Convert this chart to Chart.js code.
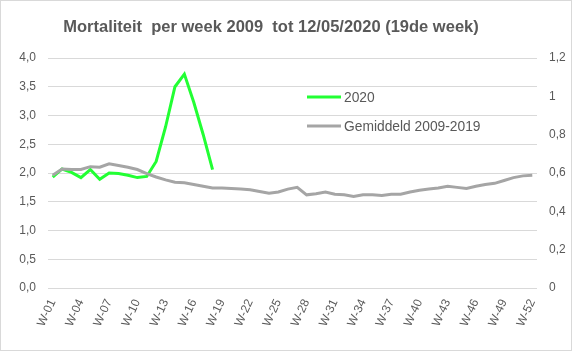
<!DOCTYPE html>
<html>
<head>
    <title>Mortaliteit per week</title>
    <script src="https://cdn.jsdelivr.net/npm/chart.js@4.4.0/dist/chart.umd.min.js"></script>
    <style>
        html, body { margin: 0; padding: 0; background: #fff; }
        #wrap { width: 570px; height: 349px; border: 1px solid #D9D9D9; position: relative; }
    </style>
</head>
<body>
    <div id="wrap">
        <canvas id="myChart" width="570" height="349"></canvas>
    </div>

    <script>
        // Data
        const weeks = [
            'W-01', 'W-02', 'W-03', 'W-04', 'W-05', 'W-06', 'W-07', 'W-08', 'W-09', 'W-10',
            'W-11', 'W-12', 'W-13', 'W-14', 'W-15', 'W-16', 'W-17', 'W-18', 'W-19', 'W-20',
            'W-21', 'W-22', 'W-23', 'W-24', 'W-25', 'W-26', 'W-27', 'W-28', 'W-29', 'W-30',
            'W-31', 'W-32', 'W-33', 'W-34', 'W-35', 'W-36', 'W-37', 'W-38', 'W-39', 'W-40',
            'W-41', 'W-42', 'W-43', 'W-44', 'W-45', 'W-46', 'W-47', 'W-48', 'W-49', 'W-50',
            'W-51', 'W-52'
        ];
        const year2020 = [
            1.93, 2.07, 2.01, 1.92, 2.06, 1.89, 2.00, 1.99, 1.96, 1.92,
            1.94, 2.20, 2.80, 3.50, 3.72, 3.23, 2.67, 2.06
        ];
        const avg2009_2019 = [
            1.96, 2.07, 2.06, 2.06, 2.11, 2.10, 2.16, 2.13, 2.10, 2.06,
            1.99, 1.93, 1.88, 1.84, 1.83, 1.80, 1.77, 1.74, 1.74, 1.73,
            1.72, 1.71, 1.68, 1.65, 1.67, 1.72, 1.75, 1.62, 1.64, 1.67,
            1.63, 1.62, 1.59, 1.62, 1.62, 1.61, 1.63, 1.63, 1.67, 1.70,
            1.72, 1.74, 1.77, 1.75, 1.73, 1.77, 1.80, 1.82, 1.87, 1.92,
            1.95, 1.96
        ];
        const leftTicks = [0, 0.5, 1, 1.5, 2, 2.5, 3, 3.5, 4];
        const rightTicks = [0, 0.2, 0.4, 0.6, 0.8, 1, 1.2];

        const titleText = 'Mortaliteit  per week 2009  tot 12/05/2020 (19de week)';
        const textColor = '#595959';
        const font = 'Liberation Sans';

        // Title and in-plot legend, drawn like the original
        const decor = {
            id: 'decor',
            afterDraw(chart) {
                const ctx = chart.ctx;
                ctx.save();
                ctx.fillStyle = textColor;
                ctx.font = 'bold 16.5px ' + font;
                ctx.textAlign = 'center';
                ctx.textBaseline = 'middle';
                ctx.fillText(titleText, 270, 26);

                ctx.font = '13.8px ' + font;
                ctx.textAlign = 'left';
                const items = [chart.data.datasets[1], chart.data.datasets[0]];
                items.forEach((ds, i) => {
                    const y = 96 + i * 29;
                    ctx.strokeStyle = ds.borderColor;
                    ctx.lineWidth = 3;
                    ctx.beginPath();
                    ctx.moveTo(306, y);
                    ctx.lineTo(340, y);
                    ctx.stroke();
                    ctx.fillText(ds.label, 343, y + 1);
                });
                ctx.restore();
            }
        };

        const config = {
            type: 'line',
            data: {
                labels: weeks,
                datasets: [{
                    label: 'Gemiddeld 2009-2019',
                    data: avg2009_2019,
                    borderColor: '#A5A5A5',
                    borderWidth: 3,
                    pointRadius: 0,
                    tension: 0,
                    yAxisID: 'y'
                }, {
                    label: '2020',
                    data: year2020,
                    borderColor: '#22FF33',
                    borderWidth: 3,
                    pointRadius: 0,
                    tension: 0,
                    yAxisID: 'y'
                }]
            },
            options: {
                responsive: false,
                animation: false,
                layout: { padding: { top: 57, left: 0, right: 0, bottom: 0 } },
                plugins: {
                    legend: { display: false },
                    title: { display: false },
                    tooltip: { enabled: false }
                },
                scales: {
                    x: {
                        offset: true,
                        grid: { display: false, drawTicks: false },
                        border: { display: false },
                        ticks: {
                            autoSkip: false,
                            minRotation: 65,
                            maxRotation: 65,
                            padding: 9,
                            color: textColor,
                            font: { family: font, size: 12 },
                            callback: (v, i) => (i % 3 === 0 ? weeks[i] : '')
                        },
                        afterFit: s => { s.height = 62; }
                    },
                    y: {
                        position: 'left',
                        min: 0,
                        max: 4,
                        afterBuildTicks: s => { s.ticks = leftTicks.map(v => ({ value: v })); },
                        grid: { color: '#D9D9D9', drawTicks: false },
                        border: { display: false },
                        ticks: {
                            color: textColor,
                            padding: 12,
                            font: { family: font, size: 12 },
                            callback: v => v.toFixed(1).replace('.', ',')
                        },
                        afterFit: s => { s.width = 47; }
                    },
                    y1: {
                        position: 'right',
                        min: 0,
                        max: 1.2,
                        afterBuildTicks: s => { s.ticks = rightTicks.map(v => ({ value: v })); },
                        grid: { display: false, drawTicks: false },
                        border: { display: false },
                        ticks: {
                            color: textColor,
                            padding: 12,
                            font: { family: font, size: 12 },
                            callback: v => String(Number(v.toFixed(1))).replace('.', ',')
                        },
                        afterFit: s => { s.width = 34; }
                    }
                }
            },
            plugins: [decor]
        };

        // Create the chart
        const ctx = document.getElementById('myChart');
        new Chart(ctx, config);
    </script>
</body>
</html>
